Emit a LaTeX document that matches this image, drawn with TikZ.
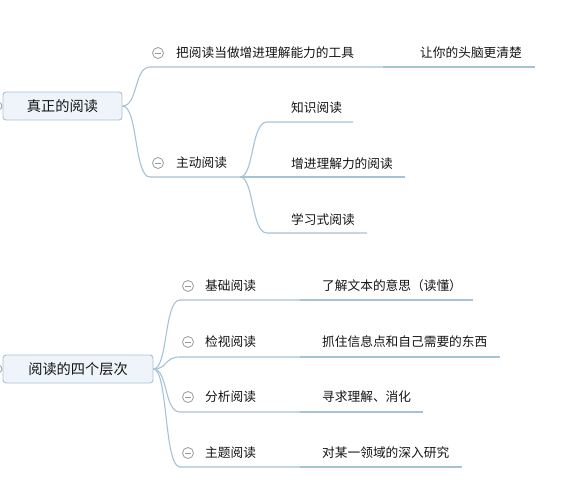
\documentclass[tikz,border=0pt]{standalone}
\usepackage{fontspec}
\setmainfont{Noto Sans CJK SC}
\definecolor{linec}{HTML}{A6C2D6}
\definecolor{boxc}{HTML}{A9C2D6}
\definecolor{boxf}{HTML}{EEF4F9}
\definecolor{iconc}{HTML}{9A9A9A}
\definecolor{txt}{HTML}{141414}
\tikzset{
  rootbox/.style={draw=boxc, fill=boxf, rounded corners=3pt, line width=0.9pt,
    minimum height=28, inner sep=0, text=txt, font=\fontsize{14.2}{16}\selectfont},
  lbl/.style={anchor=west, inner sep=0, text=txt, font=\fontsize{12.7}{14}\selectfont},
  conn/.style={draw=linec, line width=1.1pt},
  icon/.style={circle, draw=iconc, line width=0.8pt, minimum size=11, inner sep=0},
}
\begin{document}
\begin{tikzpicture}[x=1pt,y=-1pt]
\useasboundingbox (0,0) rectangle (567,485);
\begin{scope}
\clip (0,0) rectangle (567,485);
\draw[iconc, line width=0.8pt] (-2,106) circle (4);
\draw[iconc, line width=0.8pt] (-2,369) circle (4);
\end{scope}
% ---------- root 1 ----------
\node[rootbox, minimum width=119] (r1) at (62.5,106) {真正的阅读};
\coordinate (a1s) at (150,67);  \coordinate (a1e) at (383,67);  \coordinate (a1c) at (535,67);
\coordinate (a2s) at (150,177); \coordinate (a2e) at (240,177);
\coordinate (b1s) at (267,122); \coordinate (b1e) at (353,122);
\coordinate (b2e) at (405,177);
\coordinate (b3s) at (267,233); \coordinate (b3e) at (367,233);
\draw[conn] (r1.east) .. controls (138,106) and (134,67) .. (a1s) -- (a1e);
\draw[conn] (a1e) -- (a1c);
\draw[conn] (r1.east) .. controls (138,106) and (134,177) .. (a2s) -- (a2e);
\draw[conn] (a2e) .. controls (254,177) and (251,122) .. (b1s) -- (b1e);
\draw[conn] (a2e) -- (b2e);
\draw[conn] (a2e) .. controls (254,177) and (251,233) .. (b3s) -- (b3e);
\node[icon] (i1) at (158,53) {\textcolor{iconc}{\rule{6pt}{0.8pt}}};
\node[icon] (i2) at (158,163) {\textcolor{iconc}{\rule{6pt}{0.8pt}}};
\node[lbl] (t1) at (176,53) {把阅读当做增进理解能力的工具};
\node[lbl] (t1a) at (420,53) {让你的头脑更清楚};
\node[lbl] (t2) at (176,163) {主动阅读};
\node[lbl] (t2a) at (291,108) {知识阅读};
\node[lbl] (t2b) at (291,164) {增进理解力的阅读};
\node[lbl] (t2c) at (291,220) {学习式阅读};
% ---------- root 2 ----------
\node[rootbox, minimum width=150] (r2) at (78,369) {阅读的四个层次};
\coordinate (c1s) at (180,300); \coordinate (c1e) at (300,300); \coordinate (c1c) at (473,300);
\coordinate (c2s) at (180,357); \coordinate (c2e) at (300,357); \coordinate (c2c) at (500,357);
\coordinate (c3s) at (180,412); \coordinate (c3e) at (300,412); \coordinate (c3c) at (423,412);
\coordinate (c4s) at (180,467); \coordinate (c4e) at (300,467); \coordinate (c4c) at (462,467);
\draw[conn] (r2.east) .. controls (168,369) and (164,300) .. (c1s) -- (c1e);
\draw[conn] (r2.east) .. controls (168,369) and (164,357) .. (c2s) -- (c2e);
\draw[conn] (r2.east) .. controls (168,369) and (164,412) .. (c3s) -- (c3e);
\draw[conn] (r2.east) .. controls (168,369) and (164,467) .. (c4s) -- (c4e);
\draw[conn] (c1e) -- (c1c);
\draw[conn] (c2e) -- (c2c);
\draw[conn] (c3e) -- (c3c);
\draw[conn] (c4e) -- (c4c);
\node[icon] (j1) at (188,286) {\textcolor{iconc}{\rule{6pt}{0.8pt}}};
\node[icon] (j2) at (188,342) {\textcolor{iconc}{\rule{6pt}{0.8pt}}};
\node[icon] (j3) at (188,397) {\textcolor{iconc}{\rule{6pt}{0.8pt}}};
\node[icon] (j4) at (188,453) {\textcolor{iconc}{\rule{6pt}{0.8pt}}};
\node[lbl] (u1) at (205,286) {基础阅读};
\node[lbl] (u2) at (205,342) {检视阅读};
\node[lbl] (u3) at (205,397) {分析阅读};
\node[lbl] (u4) at (205,453) {主题阅读};
\node[lbl] (v1) at (322,286) {了解文本的意思（读懂）};
\node[lbl] (v2) at (322,342) {抓住信息点和自己需要的东西};
\node[lbl] (v3) at (322,397) {寻求理解、消化};
\node[lbl] (v4) at (322,453) {对某一领域的深入研究};
\end{tikzpicture}
\end{document}
